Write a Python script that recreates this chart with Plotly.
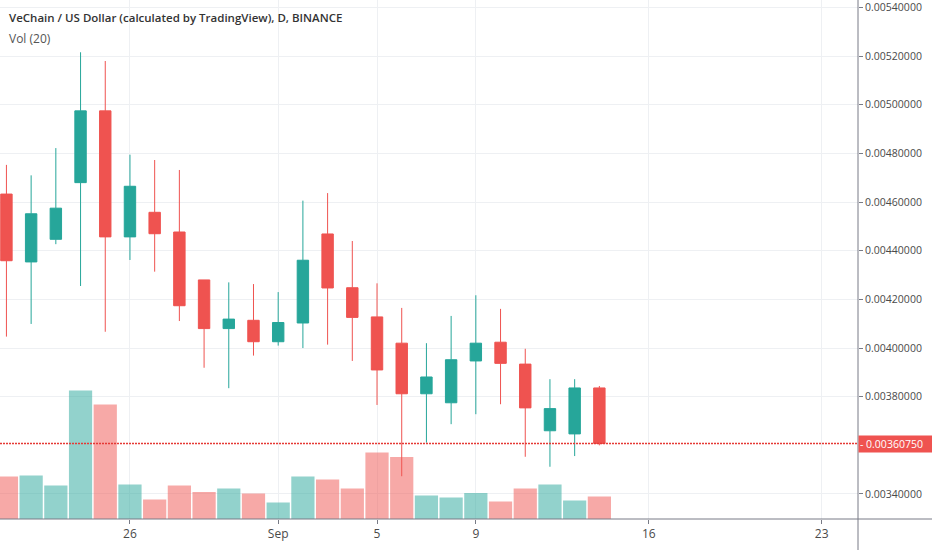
import pandas as pd
import plotly.graph_objects as go

# daily candles, VET/USD, Aug 21 - Sep 14 2019
dates = pd.date_range("2019-08-21", "2019-09-14", freq="D")
opens = [0.004633, 0.004354, 0.004447, 0.004680, 0.004975, 0.004457, 0.004558, 0.004477, 0.004280, 0.004080,
         0.004114, 0.004026, 0.004103, 0.004469, 0.004248, 0.004128, 0.004020, 0.003812, 0.003775, 0.003947,
         0.004024, 0.003934, 0.003660, 0.003647, 0.003836]
highs = [0.004753, 0.004710, 0.004822, 0.005216, 0.005180, 0.004795, 0.004773, 0.004732, 0.004280, 0.004270,
         0.004263, 0.004230, 0.004606, 0.004637, 0.004440, 0.004266, 0.004165, 0.004020, 0.004132, 0.004217,
         0.004161, 0.003997, 0.003872, 0.003872, 0.003844]
lows = [0.004047, 0.004099, 0.004427, 0.004255, 0.004067, 0.004362, 0.004314, 0.004111, 0.003919, 0.003835,
        0.003969, 0.004010, 0.004000, 0.004014, 0.003947, 0.003766, 0.003473, 0.003611, 0.003687, 0.003728,
        0.003769, 0.003553, 0.003512, 0.003556, 0.003600]
closes = [0.004359, 0.004552, 0.004575, 0.004975, 0.004457, 0.004665, 0.004470, 0.004174, 0.004080, 0.004119,
          0.004026, 0.004105, 0.004361, 0.004247, 0.004126, 0.003910, 0.003812, 0.003881, 0.003952, 0.004020,
          0.003937, 0.003754, 0.003751, 0.003836, 0.0036075]
volumes = [85, 87, 67, 257, 229, 69, 39, 67, 54, 61, 51, 33, 85, 79, 61, 133, 124, 47, 43, 52,
           35, 61, 69, 37, 45]

x_tickvals = ["2019-08-26", "2019-09-01", "2019-09-05", "2019-09-09", "2019-09-16", "2019-09-23"]
x_ticktext = ["26", "Sep", "5", "9", "16", "23"]
# 0.0036 не подписан — его закрывает плашка текущей цены
y_tickvals = [0.0034, 0.0038, 0.0040, 0.0042, 0.0044, 0.0046, 0.0048, 0.0050, 0.0052, 0.0054]
last_price = closes[-1]

UP = "#26a69a"
DOWN = "#ef5350"
GRID = "#eef0f3"
TXT = "#4a4a4a"
FONT = "Open Sans"

vol_colors = ["rgba(38,166,154,0.5)" if c >= o else "rgba(239,83,80,0.5)" for o, c in zip(opens, closes)]

fig = go.Figure()

# объём снизу, на своей невидимой шкале
fig.add_trace(go.Bar(
    x=dates, y=volumes, yaxis="y2",
    marker=dict(color=vol_colors, line=dict(width=0)),
    showlegend=False, hoverinfo="skip"
))

fig.add_trace(go.Candlestick(
    x=dates, open=opens, high=highs, low=lows, close=closes,
    increasing=dict(line=dict(color=UP, width=1), fillcolor=UP),
    decreasing=dict(line=dict(color=DOWN, width=1), fillcolor=DOWN),
    showlegend=False
))

fig.update_layout(
    width=932, height=550,
    margin=dict(l=0, r=74, t=0, b=31),
    paper_bgcolor="white", plot_bgcolor="white",
    font=dict(family=FONT, color=TXT, size=11),
    bargap=0.06, boxgap=0.34,
    xaxis=dict(
        type="date",
        range=["2019-08-20 17:45", "2019-09-24 11:15"],
        tickvals=x_tickvals, ticktext=x_ticktext,
        showgrid=True, gridcolor=GRID, gridwidth=1,
        ticks="outside", ticklen=4, tickcolor="#787b86",
        tickfont=dict(size=12, color=TXT),
        showline=False, zeroline=False,
        rangeslider=dict(visible=False),
        fixedrange=True, automargin=False,
    ),
    yaxis=dict(
        side="right",
        range=[0.0032972, 0.0054308],
        tickvals=y_tickvals,
        tickformat=".8f",
        showgrid=True, gridcolor=GRID, gridwidth=1,
        ticks="outside", ticklen=4, tickcolor="#787b86",
        tickfont=dict(size=10.5, color=TXT),
        ticklabeloverflow="allow",
        showline=False, zeroline=False, automargin=False,
    ),
    yaxis2=dict(
        overlaying="y", range=[0, 1038], visible=False, fixedrange=True,
    ),
    shapes=[
        # пунктир текущей цены
        dict(type="line", xref="paper", yref="y", x0=0, x1=1, y0=last_price, y1=last_price,
             line=dict(color="#e53935", width=1.5, dash="2px,1px")),
        # разделитель шкалы цены
        dict(type="line", xref="paper", yref="paper", x0=1, x1=1, y0=-31 / 519, y1=1,
             line=dict(color="#787b86", width=1)),
        # нижняя линия оси времени
        dict(type="line", xref="paper", yref="paper", x0=0, x1=932 / 858, y0=0, y1=0,
             line=dict(color="#787b86", width=1)),
    ],
    annotations=[
        dict(text="VeChain / US Dollar (calculated by TradingView), D, BINANCE",
             xref="paper", yref="paper", x=7 / 858, y=1 - 18 / 519,
             xanchor="left", yanchor="middle", showarrow=False,
             font=dict(size=11.5, color="#333333", family=FONT, weight=600)),
        dict(text="Vol (20)", xref="paper", yref="paper", x=7 / 858, y=1 - 38 / 519,
             xanchor="left", yanchor="middle", showarrow=False,
             font=dict(size=12, color="#555555", family=FONT)),
        dict(text=f"- {last_price:.8f}", xref="paper", yref="y", x=1, y=last_price,
             xanchor="left", yanchor="middle", showarrow=False,
             width=72, height=14, align="left",
             bgcolor=DOWN, borderpad=1, xshift=0,
             font=dict(size=10.5, color="white", family=FONT)),
    ],
)

# убираем отступ body, чтобы график встал в угол окна
fig.write_html("out.html", config={"displayModeBar": False},
               post_script="document.body.style.margin='0';")
